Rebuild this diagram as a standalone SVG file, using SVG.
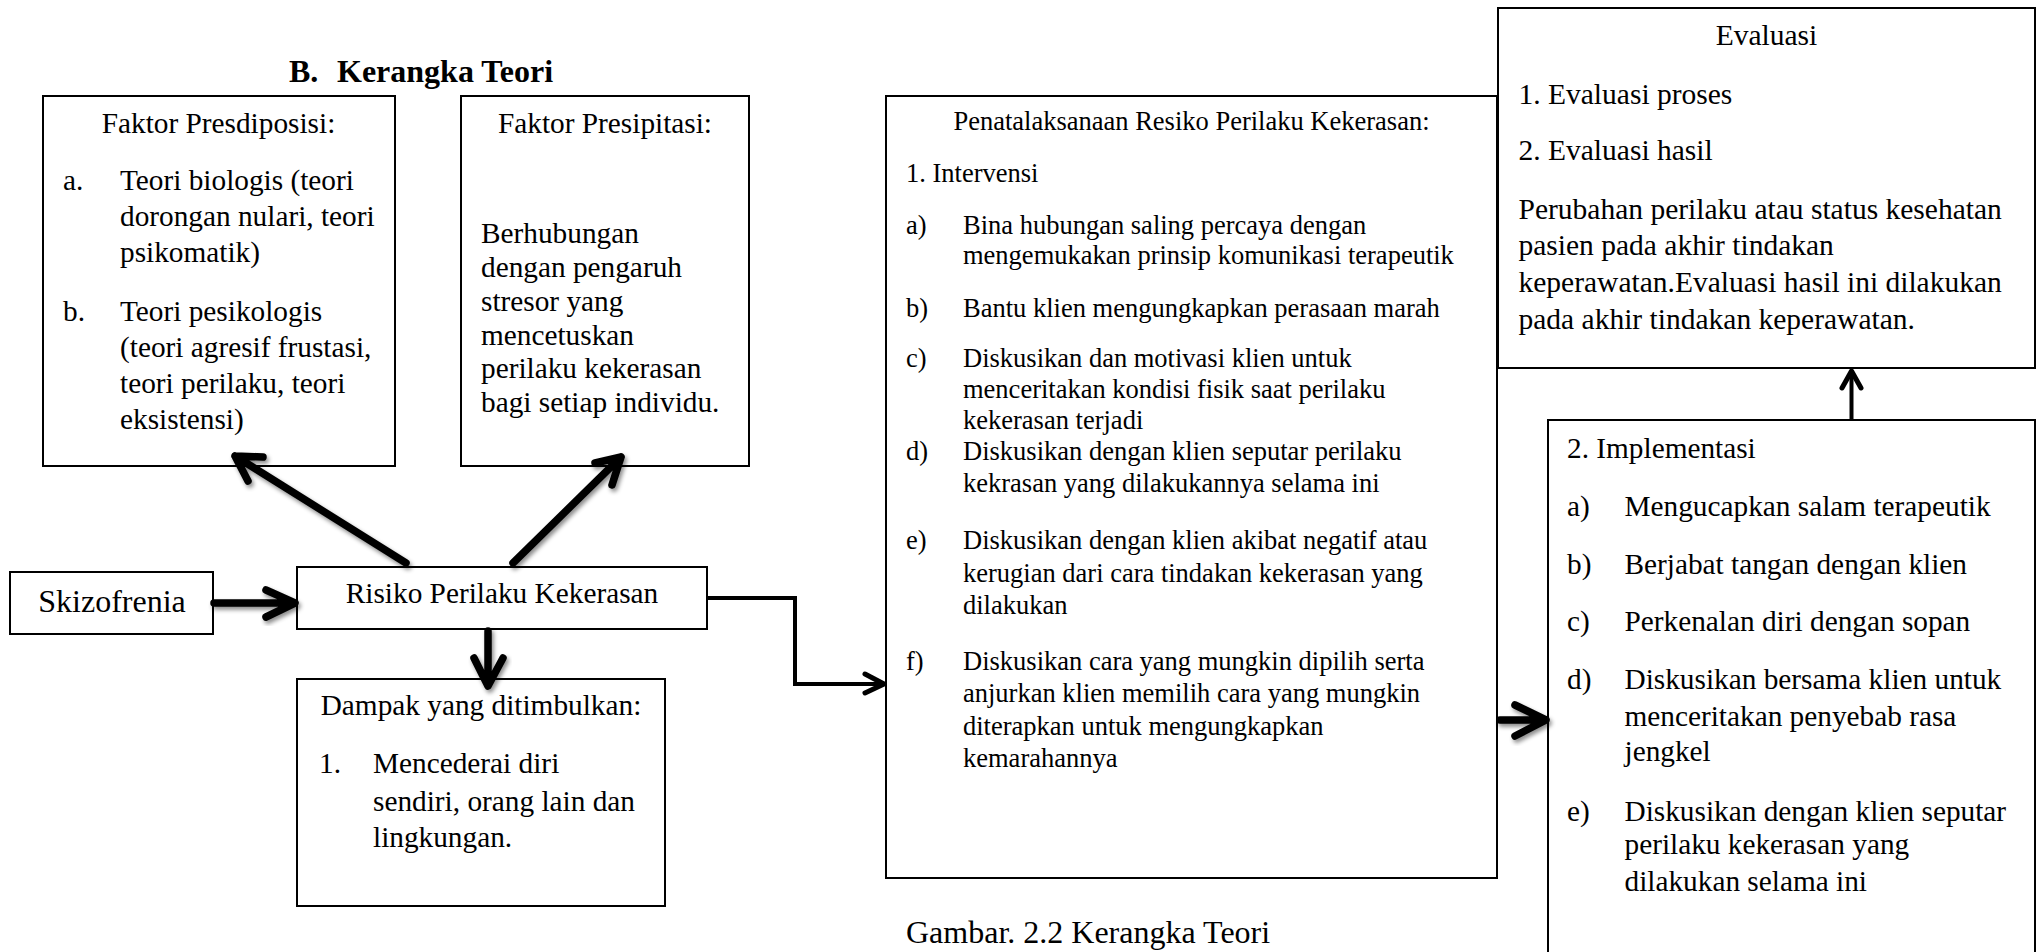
<svg xmlns="http://www.w3.org/2000/svg" width="2039" height="952" viewBox="0 0 2039 952">
<defs>
<style>
text{font-family:"Liberation Serif","Times New Roman",serif;fill:#000}
.t{font-size:29.3px}
.s{font-size:26.5px}
.m{text-anchor:middle}
.box{fill:#fff;stroke:#000;stroke-width:2}
.thick{fill:none;stroke:#000;stroke-width:7.5;stroke-linecap:round;stroke-linejoin:round;filter:url(#sh)}
.thin{fill:none;stroke:#000;stroke-width:4;stroke-linejoin:miter}
.head{fill:none;stroke:#000;stroke-width:5;stroke-linecap:round;stroke-linejoin:round}
</style>
<filter id="sh" x="-30%" y="-30%" width="160%" height="160%">
<feDropShadow dx="2" dy="3" stdDeviation="2" flood-color="#000" flood-opacity="0.45"/>
</filter>
</defs>
<rect width="2039" height="952" fill="#fff"/>

<g id="title">
<text x="289" y="82" style="font-size:32px;font-weight:bold">B.</text>
<text x="337" y="82" style="font-size:32px;font-weight:bold">Kerangka Teori</text>
</g>

<g id="node-predisposisi">
<rect class="box" x="43" y="96" width="352" height="370"/>
<text class="t m" x="218.5" y="133">Faktor Presdiposisi:</text>
<text class="t" x="63" y="190">a.</text>
<text class="t" x="120" y="190">Teori biologis (teori</text>
<text class="t" x="120" y="225.5">dorongan nulari, teori</text>
<text class="t" x="120" y="261.5">psikomatik)</text>
<text class="t" x="63" y="320.5">b.</text>
<text class="t" x="120" y="320.5">Teori pesikologis</text>
<text class="t" x="120" y="356.5">(teori agresif frustasi,</text>
<text class="t" x="120" y="392.5">teori perilaku, teori</text>
<text class="t" x="120" y="428.5">eksistensi)</text>
</g>

<g id="node-presipitasi">
<rect class="box" x="461" y="96" width="288" height="370"/>
<text class="t m" x="605" y="133">Faktor Presipitasi:</text>
<text class="t" x="481" y="243">Berhubungan</text>
<text class="t" x="481" y="277">dengan pengaruh</text>
<text class="t" x="481" y="310.5">stresor yang</text>
<text class="t" x="481" y="344.5">mencetuskan</text>
<text class="t" x="481" y="378">perilaku kekerasan</text>
<text class="t" x="481" y="412">bagi setiap individu.</text>
</g>

<g id="node-skizofrenia">
<rect class="box" x="10" y="572" width="203" height="62"/>
<text class="m" x="112" y="612" style="font-size:32px">Skizofrenia</text>
</g>

<g id="node-risiko">
<rect class="box" x="297" y="567" width="410" height="62"/>
<text class="t m" x="502" y="603">Risiko Perilaku Kekerasan</text>
</g>

<g id="node-dampak">
<rect class="box" x="297" y="679" width="368" height="227"/>
<text class="t m" x="481" y="715">Dampak yang ditimbulkan:</text>
<text class="t" x="319" y="773">1.</text>
<text class="t" x="373" y="773">Mencederai diri</text>
<text class="t" x="373" y="810.5">sendiri, orang lain dan</text>
<text class="t" x="373" y="846.5">lingkungan.</text>
</g>

<g id="node-evaluasi">
<rect class="box" x="1498" y="8" width="537" height="360"/>
<text class="m" x="1766.5" y="45" style="font-size:29.5px">Evaluasi</text>
<text x="1518.5" y="103.5" style="font-size:29.5px">1. Evaluasi proses</text>
<text x="1518.5" y="160" style="font-size:29.5px">2. Evaluasi hasil</text>
<text x="1518.5" y="218.5" style="font-size:29.5px">Perubahan perilaku atau status kesehatan</text>
<text x="1518.5" y="255" style="font-size:29.5px">pasien pada akhir tindakan</text>
<text x="1518.5" y="291.5" style="font-size:29.5px">keperawatan.Evaluasi hasil ini dilakukan</text>
<text x="1518.5" y="328.5" style="font-size:29.5px">pada akhir tindakan keperawatan.</text>
</g>

<g id="node-penatalaksanaan">
<rect class="box" x="886" y="96" width="611" height="782"/>
<text class="s m" x="1191.5" y="130">Penatalaksanaan Resiko Perilaku Kekerasan:</text>
<text class="s" x="906" y="181.5">1. Intervensi</text>
<text class="s" x="906" y="234">a)</text>
<text class="s" x="963" y="234">Bina hubungan saling percaya dengan</text>
<text class="s" x="963" y="263.5">mengemukakan prinsip komunikasi terapeutik</text>
<text class="s" x="906" y="317">b)</text>
<text class="s" x="963" y="317">Bantu klien mengungkapkan perasaan marah</text>
<text class="s" x="906" y="367">c)</text>
<text class="s" x="963" y="367">Diskusikan dan motivasi klien untuk</text>
<text class="s" x="963" y="398">menceritakan kondisi fisik saat perilaku</text>
<text class="s" x="963" y="428.5">kekerasan terjadi</text>
<text class="s" x="906" y="460">d)</text>
<text class="s" x="963" y="460">Diskusikan dengan klien seputar perilaku</text>
<text class="s" x="963" y="491.5">kekrasan yang dilakukannya selama ini</text>
<text class="s" x="906" y="548.5">e)</text>
<text class="s" x="963" y="548.5">Diskusikan dengan klien akibat negatif atau</text>
<text class="s" x="963" y="581.5">kerugian dari cara tindakan kekerasan yang</text>
<text class="s" x="963" y="613.5">dilakukan</text>
<text class="s" x="906" y="670">f)</text>
<text class="s" x="963" y="670">Diskusikan cara yang mungkin dipilih serta</text>
<text class="s" x="963" y="701.5">anjurkan klien memilih cara yang mungkin</text>
<text class="s" x="963" y="735">diterapkan untuk mengungkapkan</text>
<text class="s" x="963" y="766.5">kemarahannya</text>
</g>

<g id="node-implementasi">
<rect class="box" x="1548" y="420" width="487" height="560"/>
<text class="t" x="1567" y="458">2. Implementasi</text>
<text class="t" x="1567" y="516">a)</text>
<text class="t" x="1624.5" y="516">Mengucapkan salam terapeutik</text>
<text class="t" x="1567" y="574">b)</text>
<text class="t" x="1624.5" y="574">Berjabat tangan dengan klien</text>
<text class="t" x="1567" y="630.5">c)</text>
<text class="t" x="1624.5" y="630.5">Perkenalan diri dengan sopan</text>
<text class="t" x="1567" y="688.5">d)</text>
<text class="t" x="1624.5" y="688.5">Diskusikan bersama klien untuk</text>
<text class="t" x="1624.5" y="725.5">menceritakan penyebab rasa</text>
<text class="t" x="1624.5" y="761">jengkel</text>
<text class="t" x="1567" y="821">e)</text>
<text class="t" x="1624.5" y="821">Diskusikan dengan klien seputar</text>
<text class="t" x="1624.5" y="854">perilaku kekerasan yang</text>
<text class="t" x="1624.5" y="891">dilakukan selama ini</text>
</g>

<g id="caption">
<text x="906" y="943" style="font-size:32px">Gambar. 2.2 Kerangka Teori</text>
</g>

<g id="connectors">
<path class="thick" d="M406 563 L235 456 M263 457 L235 456 L248 481"/>
<path class="thick" d="M513 563 L621 457 M595 463 L621 457 L612 485"/>
<path class="thick" d="M214 603 L293 603 M266 590 L295 603 L266 617"/>
<path class="thick" d="M488 631 L488 684 M474 658 L488 686 L503 658"/>
<path class="thick" d="M1500 720 L1544 720 M1515 705 L1546 720 L1515 736"/>
<path class="thin" d="M707 598 H795 V684 H883"/>
<path class="head" d="M865 674 L884 684 L865 693"/>
<path class="thin" d="M1851.5 419 V372"/>
<path class="head" d="M1842 388 L1851.5 371 L1861 388"/>
</g>
</svg>
